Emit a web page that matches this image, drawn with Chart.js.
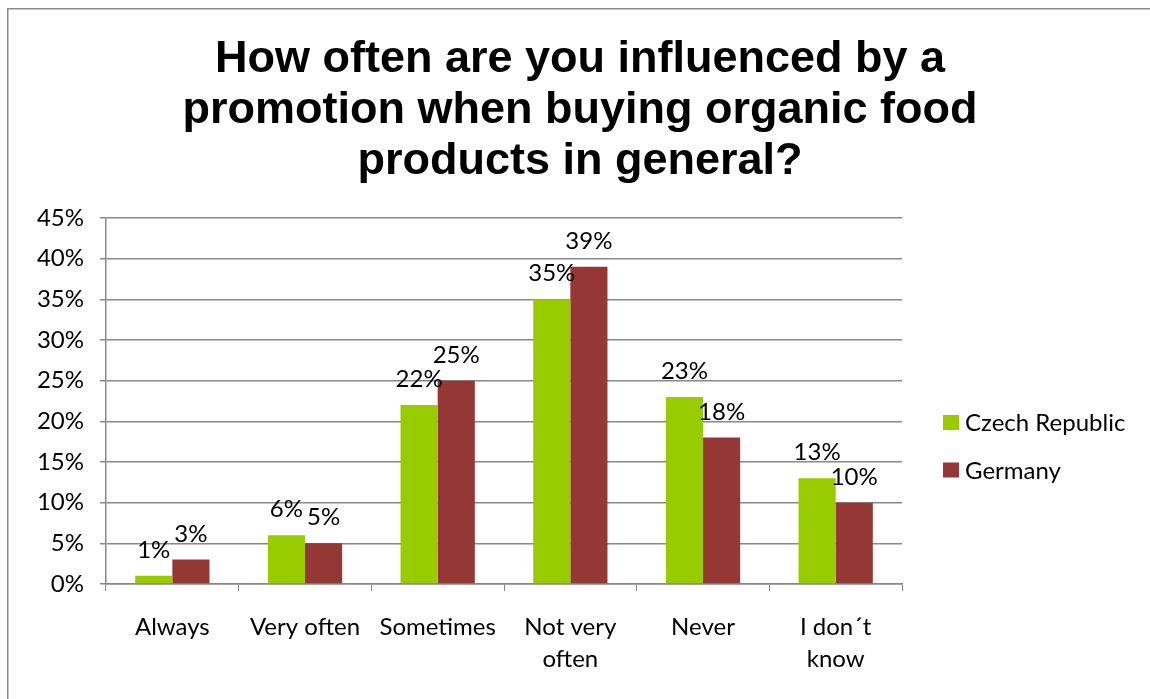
<!DOCTYPE html>
<html>
<head>
<meta charset="utf-8">
<script src="https://cdn.jsdelivr.net/npm/chart.js@4.4.1/dist/chart.umd.min.js"></script>
<style>
  html, body { margin: 0; padding: 0; background: #fff; overflow: hidden; }
  #wrap { position: absolute; left: 0; top: 0; width: 1150px; height: 699px; }
</style>
</head>
<body>
<div id="wrap"><canvas id="promoChart" width="1150" height="699"></canvas></div>
<script>
// Survey answers, share of respondents in percent
const categories = ['Always', 'Very often', 'Sometimes', ['Not very', 'often'], 'Never', ['I don\u00b4t', 'know']];
const czechValues = [1, 6, 22, 35, 23, 13];
const germanyValues = [3, 5, 25, 39, 18, 10];
const yTicks = [0, 5, 10, 15, 20, 25, 30, 35, 40, 45];
const titleLines = ['How often are you influenced by a', 'promotion when buying organic food', 'products in general?'];

const bodyFont = 'Lato';
const gridColor = '#888888';

// Frame, title and legend are painted straight onto the canvas
const decorations = {
    id: 'decorations',
    beforeDraw(chart) {
        const ctx = chart.ctx;
        ctx.save();
        ctx.strokeStyle = '#8a8a8a';
        ctx.lineWidth = 1.5;
        ctx.strokeRect(7.75, 8.75, 2000, 2000);
        ctx.restore();
    },
    afterDraw(chart) {
        const ctx = chart.ctx;
        ctx.save();
        ctx.fillStyle = '#000';
        ctx.textAlign = 'center';
        ctx.textBaseline = 'alphabetic';
        ctx.font = 'bold 45px "Liberation Sans", Arial, sans-serif';
        const baselines = [72, 123, 174];
        titleLines.forEach((line, i) => ctx.fillText(line, 580, baselines[i]));

        // legend
        ctx.font = '24px ' + bodyFont;
        ctx.textAlign = 'left';
        ctx.textBaseline = 'middle';
        const rows = [422.5, 470];
        chart.data.datasets.forEach((ds, i) => {
            ctx.fillStyle = ds.backgroundColor;
            ctx.fillRect(943, rows[i] - 7.5, 16, 15);
            ctx.fillStyle = '#000';
            ctx.fillText(ds.label, 965, rows[i] + 1);
        });
        ctx.restore();
    }
};

// Value written above each bar
const barValues = {
    id: 'barValues',
    afterDatasetsDraw(chart) {
        const ctx = chart.ctx;
        ctx.save();
        ctx.font = '24px ' + bodyFont;
        ctx.fillStyle = '#000';
        ctx.textAlign = 'center';
        ctx.textBaseline = 'alphabetic';
        chart.data.datasets.forEach((ds, i) => {
            chart.getDatasetMeta(i).data.forEach((bar, j) => {
                ctx.fillText(ds.data[j] + '%', bar.x, bar.y - 18);
            });
        });
        ctx.restore();
    }
};

new Chart(document.getElementById('promoChart'), {
    type: 'bar',
    data: {
        labels: categories,
        datasets: [{
            label: 'Czech Republic',
            data: czechValues,
            backgroundColor: '#99CC00'
        }, {
            label: 'Germany',
            data: germanyValues,
            backgroundColor: '#953735'
        }]
    },
    options: {
        responsive: false,
        animation: false,
        datasets: {
            bar: { categoryPercentage: 0.56, barPercentage: 1.0 }
        },
        layout: { padding: { top: 218, left: 0, right: 248, bottom: 0 } },
        plugins: {
            legend: { display: false },
            title: { display: false },
            tooltip: { enabled: false }
        },
        scales: {
            x: {
                grid: {
                    display: true,
                    drawOnChartArea: false,
                    color: gridColor,
                    tickLength: 7,
                    offset: true
                },
                border: { color: gridColor, width: 1.5 },
                ticks: {
                    color: '#000',
                    font: { family: bodyFont, size: 24, lineHeight: 1.33 },
                    padding: 20,
                    maxRotation: 0,
                    autoSkip: false
                },
                afterFit(scale) { scale.height = 115; }
            },
            y: {
                min: 0,
                max: 45,
                afterBuildTicks(scale) { scale.ticks = yTicks.map(v => ({ value: v })); },
                grid: { color: gridColor, lineWidth: 1.5, tickLength: 6 },
                border: { color: gridColor, width: 1.5 },
                ticks: {
                    color: '#000',
                    font: { family: bodyFont, size: 24 },
                    padding: 16,
                    callback: v => v + '%'
                },
                afterFit(scale) { scale.width = 106; }
            }
        }
    },
    plugins: [decorations, barValues]
});
</script>
</body>
</html>
